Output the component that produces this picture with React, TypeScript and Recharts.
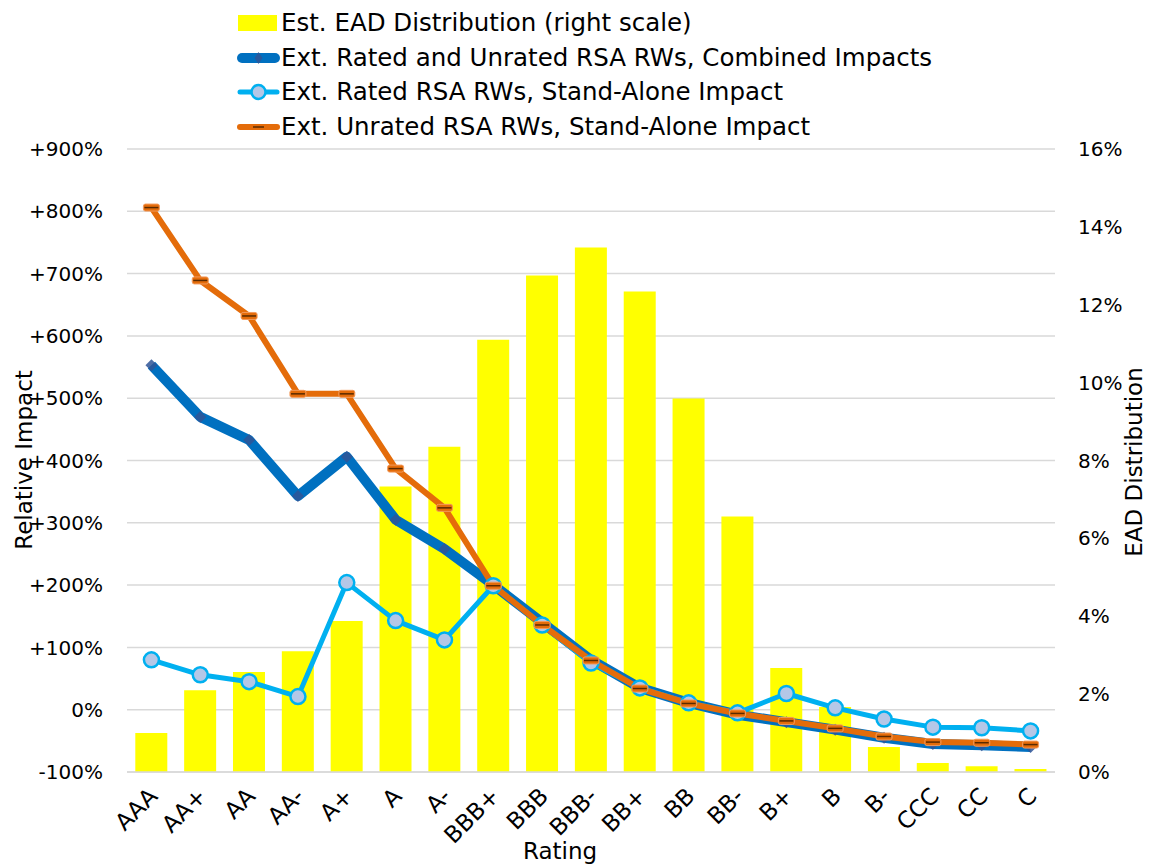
import React from 'react';
import { ComposedChart, Bar, Line, XAxis, YAxis, CartesianGrid, Label } from 'recharts';

const ratings = ['AAA', 'AA+', 'AA', 'AA-', 'A+', 'A', 'A-', 'BBB+', 'BBB', 'BBB-', 'BB+', 'BB', 'BB-', 'B+', 'B', 'B-', 'CCC', 'CC', 'C'];

// right scale, % of EAD
const eadDistribution = [1.0, 2.1, 2.57, 3.1, 3.88, 7.33, 8.35, 11.1, 12.75, 13.47, 12.34, 9.59, 6.56, 2.67, 1.67, 0.64, 0.23, 0.15, 0.08];

// left scale, relative impact in %
const combinedImpact = [553, 470, 433, 343, 406, 305, 258, 200, 140, 80, 35, 11, -8, -20, -32, -45, -55, -57, -60];
const ratedImpact = [80, 56, 45, 21, 204, 143, 112, 199, 136, 75, 35, 11, -5, 26, 3, -15, -28, -29, -34];
const unratedImpact = [806, 689, 632, 507, 507, 387, 324, 199, 136, 79, 34, 10, -6, -18, -30, -43, -52, -53, -56];

const leftTicks = [-100, 0, 100, 200, 300, 400, 500, 600, 700, 800, 900];
const rightTicks = [0, 2, 4, 6, 8, 10, 12, 14, 16];

const COLORS = {
  ead: '#FFFF00',
  combined: '#0070C0',
  combinedMarker: '#2F5597',
  rated: '#00B0F0',
  ratedFill: '#B4C7E7',
  unrated: '#E46C0A',
};

const FONT = '"DejaVu Sans", "Noto Sans", sans-serif';
const TICK_SIZE = 20;
const CAT_SIZE = 23;
const TITLE_SIZE = 23;
const LEGEND_SIZE = 24.5;

const chartData = ratings.map((r, i) => ({
  rating: r,
  ead: eadDistribution[i],
  combined: combinedImpact[i],
  rated: ratedImpact[i],
  unrated: unratedImpact[i],
}));

const fmtLeft = (v: number) => (v > 0 ? `+${v}%` : `${v}%`);
const fmtRight = (v: number) => `${v}%`;

const Diamond = (props: any) => {
  const { cx, cy, index } = props;
  if (cx == null || cy == null) return <g key={`d-${index}`} />;
  return (
    <path
      key={`d-${index}`}
      d={`M${cx},${cy - 6}L${cx + 6},${cy}L${cx},${cy + 6}L${cx - 6},${cy}Z`}
      fill={COLORS.combinedMarker}
      opacity={0.85}
    />
  );
};

const RatedDot = (props: any) => {
  const { cx, cy, index } = props;
  if (cx == null || cy == null) return <g key={`r-${index}`} />;
  return <circle key={`r-${index}`} cx={cx} cy={cy} r={7.5} fill={COLORS.ratedFill} stroke={COLORS.rated} strokeWidth={2.5} />;
};

const DashDot = (props: any) => {
  const { cx, cy, index } = props;
  if (cx == null || cy == null) return <g key={`u-${index}`} />;
  return (
    <g key={`u-${index}`}>
      <rect x={cx - 8} y={cy - 3.5} width={16} height={7} rx={2} fill={COLORS.unrated} stroke="#F29A5C" strokeWidth={1} />
      <line x1={cx - 7} x2={cx + 7} y1={cy} y2={cy} stroke="#5A2A00" strokeWidth={1.5} />
    </g>
  );
};

const LegendRow = ({ icon, label }: { icon: React.ReactNode; label: string }) => (
  <div style={{ display: 'flex', alignItems: 'center', height: 34.5, whiteSpace: 'nowrap' }}>
    <svg width={46} height={20}>{icon}</svg>
    <span>{label}</span>
  </div>
);

const ChartLegend = () => (
  <div style={{ position: 'absolute', left: 235, top: 6, fontFamily: FONT, fontSize: LEGEND_SIZE, color: '#000', lineHeight: 1 }}>
    <LegendRow icon={<rect x={3} y={2} width={39} height={16} fill={COLORS.ead} />} label="Est. EAD Distribution (right scale)" />
    <LegendRow
      icon={
        <g>
          <line x1={7} x2={40} y1={10} y2={10} stroke={COLORS.combined} strokeWidth={10} strokeLinecap="round" />
          <path d="M23.5,4L27.5,10L23.5,16L19.5,10Z" fill={COLORS.combinedMarker} opacity={0.85} />
        </g>
      }
      label="Ext. Rated and Unrated RSA RWs, Combined Impacts"
    />
    <LegendRow
      icon={
        <g>
          <line x1={5} x2={42} y1={10} y2={10} stroke={COLORS.rated} strokeWidth={5} strokeLinecap="round" />
          <circle cx={23.5} cy={10} r={7} fill={COLORS.ratedFill} stroke={COLORS.rated} strokeWidth={2.5} />
        </g>
      }
      label="Ext. Rated RSA RWs, Stand-Alone Impact"
    />
    <LegendRow
      icon={
        <g>
          <line x1={5} x2={42} y1={10} y2={10} stroke={COLORS.unrated} strokeWidth={6} strokeLinecap="round" />
          <line x1={18} x2={29} y1={10} y2={10} stroke="#5A2A00" strokeWidth={1.5} />
        </g>
      }
      label="Ext. Unrated RSA RWs, Stand-Alone Impact"
    />
  </div>
);

export default function App() {
  return (
    <div style={{ position: 'absolute', left: 0, top: 0, width: 1149, height: 865, background: '#fff' }}>
      <ComposedChart
        width={1149}
        height={865}
        data={chartData}
        margin={{ top: 149, right: 34, left: 47, bottom: 33 }}
        barCategoryGap="17%"
      >
        <CartesianGrid yAxisId="left" vertical={false} stroke="#D9D9D9" strokeWidth={1.5} />
        <XAxis
          dataKey="rating"
          height={60}
          interval={0}
          tickLine={false}
          axisLine={{ stroke: '#D9D9D9', strokeWidth: 1.5 }}
          angle={-45}
          textAnchor="end"
          tickMargin={8}
          tick={{ fill: '#000', fontSize: CAT_SIZE, fontFamily: FONT, dx: -4 }}
        >
          <Label
            content={() => (
              <text x={560} y={859} textAnchor="middle" fontSize={TITLE_SIZE} fontFamily={FONT} fill="#000">
                Rating
              </text>
            )}
          />
        </XAxis>
        <YAxis
          yAxisId="left"
          orientation="left"
          width={80}
          domain={[-100, 900]}
          ticks={leftTicks}
          tickFormatter={fmtLeft}
          axisLine={false}
          tickLine={false}
          tickMargin={18}
          tick={{ fill: '#000', fontSize: TICK_SIZE, fontFamily: FONT }}
        >
          <Label
            content={() => (
              <text x={32} y={460} transform="rotate(-90, 32, 460)" textAnchor="middle" fontSize={TITLE_SIZE} fontFamily={FONT} fill="#000">
                Relative Impact
              </text>
            )}
          />
        </YAxis>
        <YAxis
          yAxisId="right"
          orientation="right"
          width={60}
          domain={[0, 16]}
          ticks={rightTicks}
          tickFormatter={fmtRight}
          axisLine={false}
          tickLine={false}
          tickMargin={17}
          tick={{ fill: '#000', fontSize: TICK_SIZE, fontFamily: FONT, textAnchor: 'start' }}
        >
          <Label
            content={() => (
              <text x={1142} y={462} transform="rotate(-90, 1142, 462)" textAnchor="middle" fontSize={TITLE_SIZE} fontFamily={FONT} fill="#000">
                EAD Distribution
              </text>
            )}
          />
        </YAxis>
        <Bar yAxisId="right" dataKey="ead" fill={COLORS.ead} isAnimationActive={false} />
        <Line
          yAxisId="left"
          dataKey="combined"
          type="linear"
          stroke={COLORS.combined}
          strokeWidth={10}
          strokeLinejoin="round"
          dot={Diamond}
          activeDot={false}
          isAnimationActive={false}
        />
        <Line
          yAxisId="left"
          dataKey="rated"
          type="linear"
          stroke={COLORS.rated}
          strokeWidth={5}
          strokeLinejoin="round"
          dot={RatedDot}
          activeDot={false}
          isAnimationActive={false}
        />
        <Line
          yAxisId="left"
          dataKey="unrated"
          type="linear"
          stroke={COLORS.unrated}
          strokeWidth={6}
          strokeLinejoin="round"
          dot={DashDot}
          activeDot={false}
          isAnimationActive={false}
        />
      </ComposedChart>
      <ChartLegend />
    </div>
  );
}
